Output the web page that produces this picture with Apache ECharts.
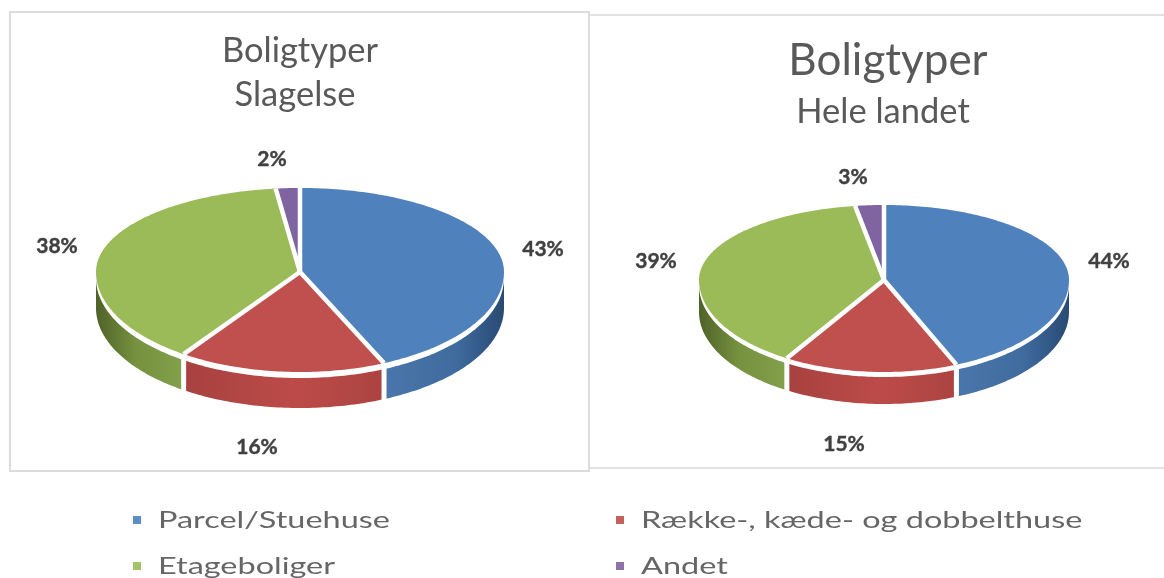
<!DOCTYPE html>
<html>
<head>
<meta charset="utf-8">
<style>
    html, body { margin: 0; padding: 0; background: #fff; }
    #chart { width: 1164px; height: 578px; }
</style>
</head>
<body>
<div id="chart"></div>
<script src="https://cdn.jsdelivr.net/npm/echarts@6/dist/echarts.min.js"></script>
<script>
    const categories = ['Parcel/Stuehuse', 'Række-, kæde- og dobbelthuse', 'Etageboliger', 'Andet'];
    // aflaest af vinklerne, etiketterne er de afrundede vaerdier
    const slagelseValues = [43.2, 16.4, 38.4, 1.9];
    const landetValues = [43.6, 15.2, 38.7, 2.5];

    const faceColors = ['#4f81bd', '#c0504d', '#9bbb59', '#8064a2'];
    const sideStops = [
        [[0, '#4a76ab'], [0.6, '#3f6b9f'], [1, '#294a72']],
        [[0, '#a7413f'], [0.55, '#bc4b48'], [1, '#ac4341']],
        [[0, '#4f6228'], [0.45, '#76913f'], [1, '#83a04b']],
        [[0, '#8064a2'], [1, '#8064a2']]
    ];

    // geometri for de to kager, ryTop/ryBottom giver perspektivet
    const leftPie = {cx: 300, cy: 272, rx: 204, ryTop: 84, ryBottom: 100, depth: 36, band: 6,
        labels: [[543, 249], [257, 447], [57, 246], [272, 159]]};
    const rightPie = {cx: 884, cy: 280, rx: 185, ryTop: 75, ryBottom: 92, depth: 32, band: 5,
        labels: [[1109, 261], [844, 444], [656, 261], [853, 177]]};

    function rimPoint(pie, deg) {
        const a = deg * Math.PI / 180;
        const c = Math.cos(a);
        return [pie.cx + pie.rx * Math.sin(a), pie.cy - c * (c > 0 ? pie.ryTop : pie.ryBottom)];
    }

    function arcPoints(pie, from, to, dy) {
        const pts = [];
        const n = Math.max(2, Math.ceil(Math.abs(to - from)));
        for (let i = 0; i <= n; i++) {
            const p = rimPoint(pie, from + (to - from) * i / n);
            pts.push([p[0], p[1] + dy]);
        }
        return pts;
    }

    function pieItem(pie, values) {
        const total = values.reduce((s, v) => s + v, 0);
        return function (params, api) {
            const idx = params.dataIndex;
            let before = 0;
            for (let i = 0; i < idx; i++) before += values[i];
            const start = before / total * 360;
            const end = (before + api.value(0)) / total * 360;
            const children = [];

            // sidefladen findes kun paa den forreste halvdel
            const sFrom = Math.max(start, 90), sTo = Math.min(end, 270);
            if (sTo > sFrom) {
                const sTop = arcPoints(pie, sFrom, sTo, 0);
                const sBottom = arcPoints(pie, sFrom, sTo, pie.depth).reverse();
                children.push({
                    type: 'polygon', z2: 1,
                    shape: {points: sTop.concat(sBottom)},
                    style: {fill: new echarts.graphic.LinearGradient(0, 0, 1, 0,
                        sideStops[idx].map(s => ({offset: s[0], color: s[1]})))}
                });
                if (end < 270) {
                    const p = rimPoint(pie, end);
                    children.push({
                        type: 'line', z2: 2,
                        shape: {x1: p[0], y1: p[1], x2: p[0], y2: p[1] + pie.depth + 2},
                        style: {stroke: '#fff', lineWidth: 5}
                    });
                }
            }

            const face = [[pie.cx, pie.cy]].concat(arcPoints(pie, start, end, 0));
            // hvid kant under toppen
            children.push({
                type: 'polygon', z2: 3,
                shape: {points: face.map(p => [p[0], p[1] + pie.band])},
                style: {fill: '#fff'}
            });
            children.push({
                type: 'polygon', z2: 4,
                shape: {points: face},
                style: {fill: faceColors[idx]}
            });
            const e = rimPoint(pie, end);
            children.push({
                type: 'line', z2: 5,
                shape: {x1: pie.cx, y1: pie.cy, x2: e[0], y2: e[1]},
                style: {stroke: '#fff', lineWidth: 4.5}
            });
            children.push({
                type: 'text', z2: 6,
                x: pie.labels[idx][0], y: pie.labels[idx][1],
                style: {
                    text: Math.round(api.value(0)) + '%',
                    font: 'bold 21px Lato',
                    fill: '#404040',
                    stroke: '#404040',
                    lineWidth: 0.4,
                    align: 'center',
                    verticalAlign: 'middle'
                }
            });
            return {type: 'group', children: children};
        };
    }

    function pieSeries(pie, values) {
        return {
            type: 'custom',
            coordinateSystem: 'none',
            silent: true,
            clip: false,
            data: values.map(v => [v]),
            renderItem: pieItem(pie, values)
        };
    }

    function legendItem(i, x, y) {
        return {
            type: 'group',
            children: [
                {type: 'rect', shape: {x: x, y: y - 4, width: 8, height: 8}, style: {fill: faceColors[i], opacity: 0.9}},
                {
                    type: 'text', x: x + 25, y: y + 1, scaleX: 1.41,
                    style: {text: categories[i], font: '23px Lato', fill: '#666', verticalAlign: 'middle'}
                }
            ]
        };
    }

    function titleItem(text, x, y, size) {
        return {
            text: text, left: x, top: y, textAlign: 'center', textVerticalAlign: 'middle', padding: 0,
            textStyle: {fontFamily: 'Lato', fontSize: size, fontWeight: 'normal', color: '#595959'}
        };
    }

    let myChart = echarts.init(document.getElementById('chart'), null, {renderer: 'canvas'});
    myChart.setOption({
        animation: false,
        backgroundColor: '#fff',
        title: [
            titleItem('Boligtyper', 300, 51, 34.5),
            titleItem('Slagelse', 295, 95, 34.5),
            titleItem('Boligtyper', 888, 61, 44),
            titleItem('Hele landet', 883, 112, 34.5)
        ],
        graphic: [
            {type: 'line', shape: {x1: 590, y1: 15, x2: 1164, y2: 15}, style: {stroke: '#e2e2e2', lineWidth: 2}},
            {type: 'line', shape: {x1: 590, y1: 468, x2: 1164, y2: 468}, style: {stroke: '#e2e2e2', lineWidth: 2}},
            {type: 'rect', shape: {x: 10, y: 12, width: 579, height: 459}, style: {fill: 'transparent', stroke: '#dcdcdc', lineWidth: 2}},
            legendItem(0, 133, 520),
            legendItem(1, 616, 520),
            legendItem(2, 133, 566),
            legendItem(3, 616, 566)
        ],
        series: [pieSeries(leftPie, slagelseValues), pieSeries(rightPie, landetValues)]
    });
</script>
</body>
</html>
